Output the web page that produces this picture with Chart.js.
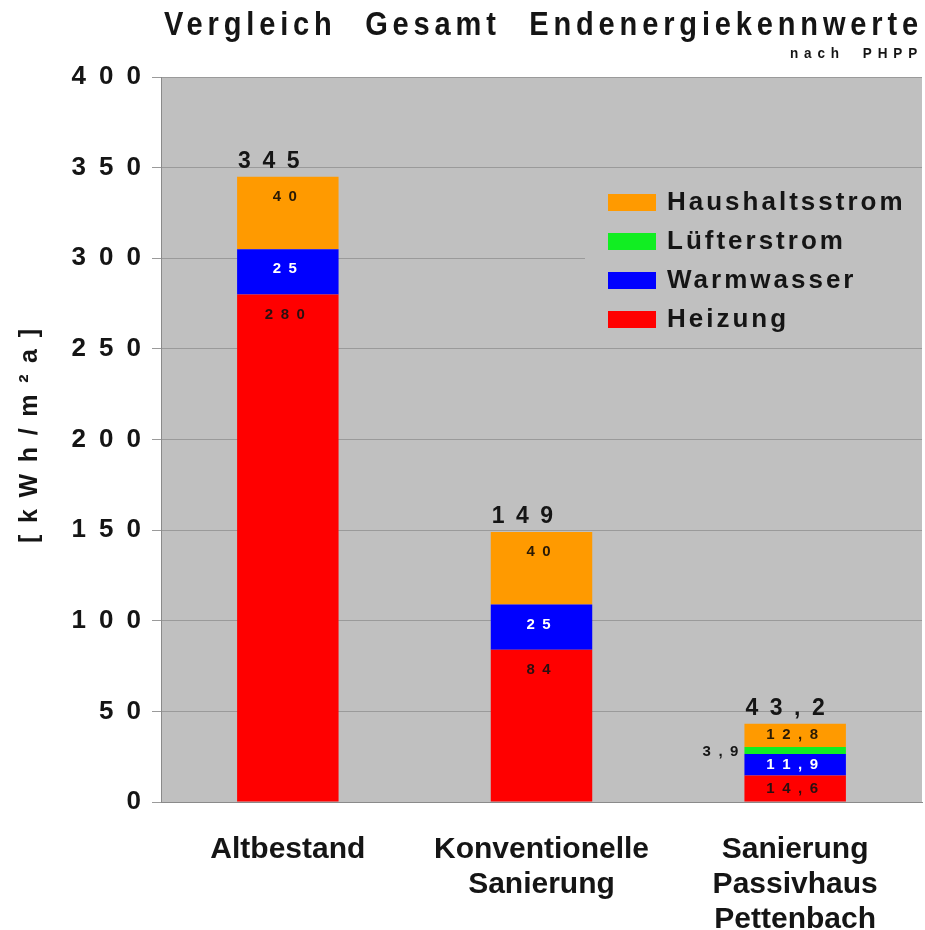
<!DOCTYPE html>
<html>
<head>
<meta charset="utf-8">
<title>Endenergiekennwerte</title>
<script src="https://cdn.jsdelivr.net/npm/chart.js@4.4.1/dist/chart.umd.min.js"></script>
<style>
    html, body { margin: 0; padding: 0; background: #fff; }
    #wrap { width: 925px; height: 930px; }
</style>
</head>
<body>
<div id="wrap"><canvas id="chart" width="925" height="930"></canvas></div>
<script>
// Daten (kWh/m²a)
const categories = ['Altbestand', ['Konventionelle', 'Sanierung'], ['Sanierung', 'Passivhaus', 'Pettenbach']];
const heizung = [280, 84, 14.6];
const warmwasser = [25, 25, 11.9];
const luefterstrom = [null, null, 3.9];
const haushaltsstrom = [40, 40, 12.8];
const yMin = 0;
const yMax = 400;
const yStep = 50;

const titleText = 'Vergleich Gesamt Endenergiekennwerte';
const subtitleText = 'nach PHPP';
const yAxisTitle = '[kWh/m²a]';

const FONT = "'Liberation Sans', Arial, sans-serif";
const TEXT = '#151515';
const PLOT_BG = '#c0c0c0';

// Ziffern auseinanderziehen, Komma statt Punkt
function spaced(v) {
    return String(v).replace('.', ',').split('').join('\u2002');
}

// Schmal gesetzter Text mit Buchstabenabstand; Restbreite geht in die Wortabstände
function drawFitted(ctx, text, x, y, width, font, align, letter, sx) {
    sx = sx || 1;
    ctx.save();
    ctx.font = font;
    const words = text.split(' ').length - 1;
    ctx.letterSpacing = (letter || 0) + 'px';
    ctx.wordSpacing = '0px';
    const w = ctx.measureText(text).width;
    const target = width / sx;
    if (words > 0) {
        ctx.wordSpacing = Math.max(0, (target - w) / words) + 'px';
    } else {
        ctx.letterSpacing = ((letter || 0) + Math.max(0, (target - w) / (text.length - 1))) + 'px';
    }
    ctx.textAlign = 'left';
    ctx.textBaseline = 'alphabetic';
    const startX = align === 'right' ? x - width : (align === 'center' ? x - width / 2 : x);
    ctx.translate(startX, y);
    ctx.scale(sx, 1);
    ctx.fillText(text, 0, 0);
    ctx.restore();
}

const plotBackground = {
    id: 'plotBackground',
    beforeDraw(chart) {
        const { ctx, chartArea: a } = chart;
        ctx.save();
        ctx.fillStyle = PLOT_BG;
        ctx.fillRect(a.left, a.top, a.right - a.left, a.bottom - a.top);
        ctx.restore();
    }
};

const segmentLabels = {
    id: 'segmentLabels',
    afterDatasetsDraw(chart) {
        const ctx = chart.ctx;
        const yScale = chart.scales.y;
        ctx.save();
        ctx.font = 'bold 15px ' + FONT;
        ctx.textBaseline = 'middle';
        chart.data.datasets.forEach((ds, di) => {
            const meta = chart.getDatasetMeta(di);
            meta.data.forEach((bar, i) => {
                const v = ds.data[i];
                if (v == null) return;
                const top = Math.min(bar.y, bar.base);
                const bottom = Math.max(bar.y, bar.base);
                const h = bottom - top;
                const txt = spaced(v);
                if (h < 12) {
                    // zu schmal: Wert links neben den Balken
                    ctx.fillStyle = TEXT;
                    ctx.textAlign = 'right';
                    ctx.fillText(txt, bar.x - bar.width / 2 - 6, (top + bottom) / 2 + 1);
                } else {
                    ctx.fillStyle = ds.labelColor;
                    ctx.textAlign = 'center';
                    const y = h > 44 ? top + 20 : (top + bottom) / 2;
                    ctx.fillText(txt, bar.x - 3, y);
                }
            });
        });

        // Summen über den Balken
        ctx.font = 'bold 23px ' + FONT;
        ctx.textAlign = 'left';
        ctx.textBaseline = 'alphabetic';
        ctx.fillStyle = TEXT;
        const first = chart.getDatasetMeta(0);
        categories.forEach((c, i) => {
            let sum = 0;
            chart.data.datasets.forEach(ds => { sum += ds.data[i] || 0; });
            sum = Math.round(sum * 10) / 10;
            const bar = first.data[i];
            const yTop = yScale.getPixelForValue(sum);
            ctx.fillText(spaced(sum), bar.x - bar.width / 2 + 1, yTop - 9);
        });
        ctx.restore();
    }
};

const boxLegend = {
    id: 'boxLegend',
    afterDatasetsDraw(chart) {
        const ctx = chart.ctx;
        const a = chart.chartArea;
        ctx.save();
        ctx.fillStyle = PLOT_BG;
        ctx.fillRect(585, 182, a.right - 585, 158);
        ctx.font = 'bold 26px ' + FONT;
        ctx.letterSpacing = '3px';
        ctx.textBaseline = 'middle';
        ctx.textAlign = 'left';
        const items = chart.data.datasets.slice().reverse();
        items.forEach((ds, k) => {
            const y = 202 + k * 39;
            ctx.fillStyle = ds.backgroundColor;
            ctx.fillRect(608, y - 8, 48, 17);
            ctx.fillStyle = TEXT;
            ctx.fillText(ds.label, 667, y + 1);
        });
        ctx.restore();
    }
};

const headings = {
    id: 'headings',
    afterDraw(chart) {
        const ctx = chart.ctx;
        ctx.save();
        ctx.fillStyle = TEXT;
        drawFitted(ctx, titleText, 923, 35, 759, 'bold 33px ' + FONT, 'right', 5.5, 0.88);
        drawFitted(ctx, subtitleText, 923, 58, 133, 'bold 15px ' + FONT, 'right', 6.5, 0.9);

        // Achsentitel, gedreht
        ctx.translate(28, 436);
        ctx.rotate(-Math.PI / 2);
        drawFitted(ctx, yAxisTitle, 0, 9, 214, 'bold 25px ' + FONT, 'center', 0);
        ctx.restore();
    }
};

new Chart(document.getElementById('chart'), {
    type: 'bar',
    data: {
        labels: categories,
        datasets: [
            { label: 'Heizung', data: heizung, backgroundColor: '#ff0000', labelColor: '#2a1010' },
            { label: 'Warmwasser', data: warmwasser, backgroundColor: '#0000ff', labelColor: '#ffffff' },
            { label: 'Lüfterstrom', data: luefterstrom, backgroundColor: '#11ee22', labelColor: TEXT },
            { label: 'Haushaltsstrom', data: haushaltsstrom, backgroundColor: '#ff9a00', labelColor: '#2a1a05' }
        ]
    },
    options: {
        responsive: false,
        animation: false,
        layout: { padding: { top: 77, right: 3, left: 0, bottom: 0 } },
        datasets: {
            bar: { categoryPercentage: 1, barPercentage: 0.4, borderWidth: 0 }
        },
        plugins: {
            legend: { display: false },
            title: { display: false },
            tooltip: { enabled: false }
        },
        scales: {
            x: {
                stacked: true,
                grid: { display: false },
                border: { display: true, color: '#8a8a8a', width: 1 },
                ticks: {
                    color: TEXT,
                    padding: 22,
                    maxRotation: 0,
                    autoSkip: false,
                    font: { family: FONT, size: 30, weight: 'bold', lineHeight: '35px' }
                },
                afterFit(scale) { scale.height = 128; }
            },
            y: {
                stacked: true,
                min: yMin,
                max: yMax,
                grid: { color: '#9a9a9a', lineWidth: 1, tickLength: 9 },
                border: { display: true, color: '#8a8a8a', width: 1 },
                ticks: {
                    stepSize: yStep,
                    color: TEXT,
                    padding: 11,
                    font: { family: FONT, size: 26, weight: 'bold' },
                    callback: v => spaced(v)
                },
                afterFit(scale) { scale.width = 161; }
            }
        }
    },
    plugins: [plotBackground, segmentLabels, boxLegend, headings]
});
</script>
</body>
</html>
